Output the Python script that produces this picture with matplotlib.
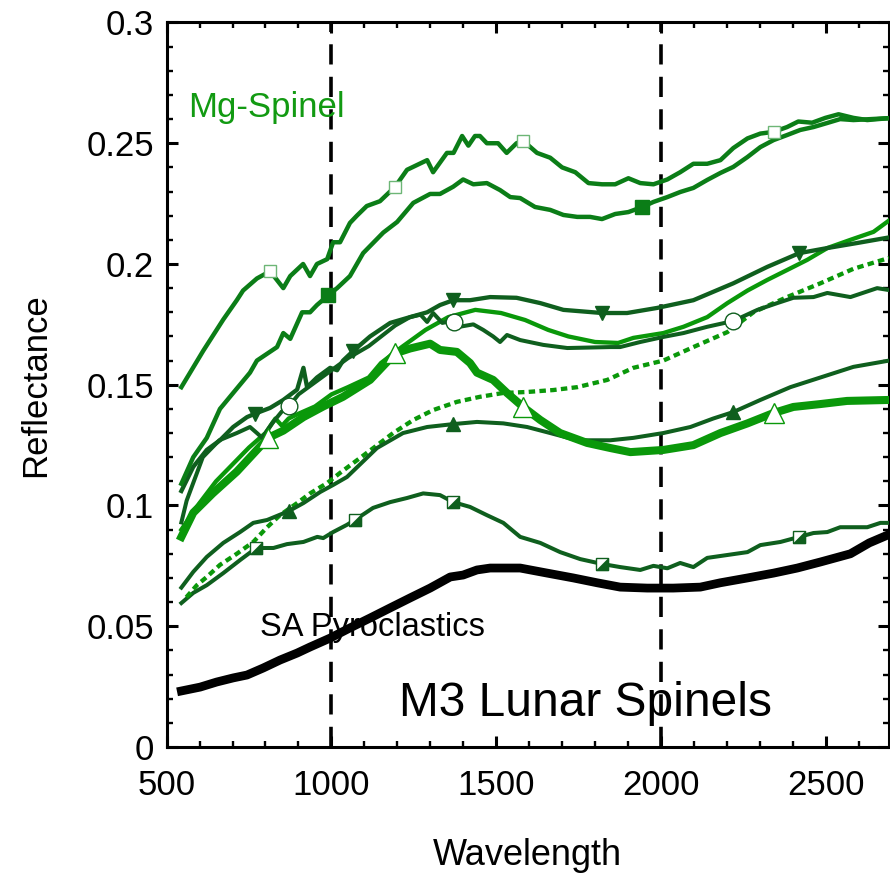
import numpy as np
import matplotlib
matplotlib.use('Agg')
import matplotlib.pyplot as plt
from matplotlib.ticker import MultipleLocator

plt.rcParams['font.family'] = ['Liberation Sans', 'DejaVu Sans']

# ---- data ----
# Mg-Spinel, open squares
wl_a = [545, 611, 672, 713, 732, 774, 814, 854, 875, 914, 935, 956, 987, 1005, 1026, 1056, 1077, 1107,
        1147, 1193, 1229, 1290, 1308, 1350, 1370, 1396, 1415, 1435, 1450, 1471, 1505, 1531, 1561, 1581,
        1623, 1663, 1699, 1739, 1779, 1820, 1860, 1900, 1936, 1976, 2018, 2057, 2097, 2139, 2179, 2218,
        2261, 2300, 2340, 2381, 2415, 2457, 2497, 2537, 2582, 2624, 2690]
refl_a = [0.149, 0.164, 0.177, 0.185, 0.189, 0.194, 0.197, 0.190, 0.195, 0.200, 0.195, 0.200, 0.202,
          0.209, 0.209, 0.217, 0.220, 0.224, 0.226, 0.232, 0.239, 0.243, 0.238, 0.246, 0.246, 0.253,
          0.249, 0.253, 0.253, 0.250, 0.250, 0.246, 0.250, 0.251, 0.246, 0.244, 0.240, 0.238, 0.2335,
          0.233, 0.233, 0.2355, 0.2335, 0.233, 0.235, 0.238, 0.2415, 0.2415, 0.243, 0.248, 0.252, 0.254,
          0.2547, 0.2567, 0.259, 0.2585, 0.2605, 0.262, 0.2605, 0.2596, 0.2604]
marks_a = [814, 1193, 1581, 2340]

# Mg-Spinel, filled squares
wl_b = [545, 581, 622, 662, 702, 753, 774, 835, 854, 875, 911, 935, 956, 990, 1017, 1056, 1096, 1157,
        1199, 1248, 1299, 1329, 1369, 1399, 1430, 1471, 1511, 1542, 1572, 1617, 1663, 1703, 1745, 1784,
        1820, 1860, 1900, 1942, 1976, 2018, 2057, 2097, 2139, 2179, 2218, 2261, 2300, 2340, 2381, 2421,
        2461, 2503, 2542, 2582, 2690]
refl_b = [0.109, 0.120, 0.128, 0.140, 0.1466, 0.155, 0.160, 0.1656, 0.1714, 0.169, 0.180, 0.180, 0.183,
          0.187, 0.190, 0.195, 0.2045, 0.213, 0.2174, 0.2253, 0.229, 0.229, 0.232, 0.235, 0.233, 0.2335,
          0.2306, 0.2277, 0.2273, 0.2236, 0.2224, 0.2203, 0.2195, 0.2195, 0.2186, 0.2207, 0.2215, 0.2236,
          0.2257, 0.2277, 0.2298, 0.2315, 0.2348, 0.2377, 0.2402, 0.2443, 0.2484, 0.2513, 0.2534, 0.2555,
          0.2567, 0.2584, 0.26, 0.2596, 0.2604]
marks_b = [990, 1942]

# dark green, down triangles
wl_c = [545, 581, 622, 662, 702, 744, 768, 814, 854, 896, 915, 926, 956, 996, 1017, 1035, 1066, 1117,
        1178, 1238, 1290, 1329, 1369, 1420, 1481, 1561, 1633, 1703, 1820, 1896, 1987, 2097, 2218, 2321,
        2418, 2503, 2594, 2690]
refl_c = [0.106, 0.116, 0.123, 0.127, 0.1325, 0.1366, 0.138, 0.1404, 0.1437, 0.148, 0.157, 0.149, 0.153,
          0.157, 0.156, 0.160, 0.164, 0.170, 0.1756, 0.178, 0.180, 0.183, 0.185, 0.185, 0.1863, 0.186,
          0.1838, 0.181, 0.1797, 0.1797, 0.1818, 0.185, 0.192, 0.1988, 0.2045, 0.2066, 0.2087, 0.211]
marks_c = [768, 1066, 1369, 1820, 2418]

# bright green, thin
wl_d = [545, 600, 650, 700, 750, 800, 830, 850, 870, 900, 950, 1000, 1050, 1113, 1150, 1213, 1285, 1354,
        1436, 1514, 1587, 1657, 1718, 1799, 1869, 1915, 2006, 2067, 2139, 2200, 2261, 2321, 2381, 2442,
        2503, 2573, 2643, 2690]
refl_d = [0.090, 0.101, 0.110, 0.117, 0.124, 0.130, 0.136, 0.133, 0.136, 0.138, 0.141, 0.146, 0.149,
          0.153, 0.159, 0.1656, 0.1727, 0.178, 0.181, 0.1797, 0.1768, 0.1727, 0.170, 0.1677, 0.1673,
          0.1694, 0.1714, 0.174, 0.178, 0.1838, 0.189, 0.1934, 0.1975, 0.2017, 0.2066, 0.210, 0.2133, 0.218]

# dark green, open circles
wl_e = [545, 561, 610, 660, 713, 753, 774, 790, 820, 850, 871, 900, 950, 1000, 1050, 1113, 1193, 1238,
        1270, 1290, 1308, 1336, 1350, 1372, 1388, 1430, 1460, 1490, 1511, 1532, 1572, 1642, 1715, 1845,
        1875, 1936, 2006, 2067, 2139, 2218, 2291, 2351, 2400, 2461, 2503, 2573, 2654, 2690]
refl_e = [0.093, 0.102, 0.120, 0.127, 0.130, 0.1325, 0.130, 0.128, 0.134, 0.139, 0.141, 0.146, 0.151,
          0.156, 0.161, 0.166, 0.1745, 0.178, 0.179, 0.176, 0.1797, 0.1756, 0.176, 0.176, 0.174, 0.175,
          0.1727, 0.170, 0.1677, 0.1706, 0.1685, 0.1665, 0.1652, 0.1656, 0.1656, 0.1677, 0.1698, 0.1714,
          0.174, 0.1764, 0.181, 0.1838, 0.186, 0.1863, 0.188, 0.1863, 0.190, 0.1892]
marks_e = [871, 1372, 2218]

# bright green, thick, open triangles
wl_f = [545, 581, 640, 713, 774, 808, 854, 915, 975, 1035, 1117, 1193, 1238, 1299, 1329, 1380, 1420,
        1441, 1490, 1532, 1581, 1633, 1693, 1775, 1845, 1906, 2006, 2097, 2179, 2261, 2340, 2400, 2482,
        2563, 2690]
refl_f = [0.087, 0.097, 0.105, 0.114, 0.123, 0.128, 0.131, 0.1366, 0.141, 0.145, 0.152, 0.163, 0.165,
          0.167, 0.1644, 0.1636, 0.159, 0.155, 0.152, 0.1466, 0.1408, 0.1354, 0.130, 0.1259, 0.1238,
          0.1221, 0.123, 0.125, 0.130, 0.134, 0.1383, 0.1408, 0.142, 0.1433, 0.1437]
marks_f = [808, 1193, 1581, 2340]

# bright green, dotted
wl_g = [560, 592, 622, 662, 713, 763, 805, 844, 896, 935, 987, 1026, 1127, 1187, 1248, 1308, 1380, 1450,
        1521, 1593, 1672, 1745, 1836, 1915, 2006, 2097, 2200, 2279, 2381, 2482, 2582, 2690]
refl_g = [0.062, 0.067, 0.0704, 0.0754, 0.080, 0.0849, 0.091, 0.096, 0.101, 0.105, 0.1093, 0.1135,
          0.1238, 0.130, 0.1354, 0.1395, 0.1429, 0.145, 0.1466, 0.147, 0.1478, 0.149, 0.152, 0.157,
          0.160, 0.1656, 0.1718, 0.180, 0.1863, 0.192, 0.198, 0.2025]

# dark green, up triangles
wl_h = [545, 581, 622, 672, 723, 763, 805, 871, 915, 966, 1005, 1047, 1138, 1217, 1290, 1369, 1441, 1521,
        1593, 1663, 1745, 1845, 1915, 2006, 2088, 2157, 2218, 2300, 2391, 2482, 2582, 2690]
refl_h = [0.066, 0.0725, 0.0787, 0.0845, 0.089, 0.0928, 0.094, 0.0977, 0.101, 0.1056, 0.1085, 0.1118,
          0.1238, 0.130, 0.1325, 0.1337, 0.1346, 0.134, 0.1325, 0.130, 0.127, 0.127, 0.128, 0.130,
          0.1325, 0.136, 0.1387, 0.1437, 0.149, 0.153, 0.1574, 0.160]
marks_h = [871, 1369, 2218]

# dark green, half-filled squares
wl_i = [545, 581, 622, 672, 723, 772, 824, 865, 915, 957, 975, 1005, 1047, 1071, 1126, 1178, 1229, 1278,
        1329, 1369, 1420, 1471, 1521, 1572, 1633, 1693, 1754, 1820, 1875, 1936, 1976, 2018, 2057, 2097,
        2139, 2200, 2261, 2300, 2361, 2418, 2461, 2503, 2542, 2624, 2664, 2690]
refl_i = [0.0596, 0.0638, 0.067, 0.072, 0.0774, 0.0824, 0.0824, 0.084, 0.0849, 0.087, 0.0865, 0.089,
          0.092, 0.094, 0.099, 0.1014, 0.1031, 0.105, 0.1043, 0.1014, 0.0994, 0.096, 0.0928, 0.087,
          0.0845, 0.0807, 0.0778, 0.0758, 0.0745, 0.0733, 0.075, 0.074, 0.0762, 0.0745, 0.0783, 0.0795,
          0.0807, 0.0836, 0.0849, 0.087, 0.0886, 0.089, 0.091, 0.091, 0.0928, 0.0928]
marks_i = [772, 1071, 1369, 1820, 2418]

# SA Pyroclastics
wl_sa = [545, 602, 652, 702, 744, 793, 844, 896, 935, 996, 1056, 1117, 1178, 1238, 1299, 1360, 1399,
         1441, 1481, 1572, 1654, 1733, 1805, 1875, 1957, 2036, 2118, 2179, 2261, 2340, 2412, 2482, 2573,
         2630, 2690]
refl_sa = [0.0232, 0.0248, 0.0269, 0.0286, 0.0298, 0.0327, 0.036, 0.0389, 0.0414, 0.0451, 0.0493,
           0.0534, 0.0576, 0.0617, 0.0658, 0.0704, 0.0712, 0.0733, 0.0741, 0.0741, 0.072, 0.070, 0.068,
           0.0662, 0.0658, 0.0658, 0.0662, 0.068, 0.070, 0.072, 0.0741, 0.0766, 0.080, 0.0845, 0.088]

band_centers = [1000, 2000]
x_ticks = [500, 1000, 1500, 2000, 2500]
y_ticks = [0, 0.05, 0.1, 0.15, 0.2, 0.25, 0.3]
y_labels = ['0', '0.05', '0.1', '0.15', '0.2', '0.25', '0.3']

mg_green = '#0b7d17'
dark_green = '#0f5f1e'
bright_green = '#0a980a'


def idx(wl, marks):
    wl = np.array(wl)
    return [int(np.argmin(np.abs(wl - m))) for m in marks]


fig = plt.figure(figsize=(8.9, 8.75), dpi=100)
ax = fig.add_axes([0.1871, 0.1463, 0.8118, 0.828])

for xv in band_centers:
    ax.axvline(xv, color='black', lw=2.6, dashes=(5.6, 3.4), zorder=1)

ax.plot(wl_sa, refl_sa, color='black', lw=6.3, solid_joinstyle='round', zorder=2)

ax.plot(wl_i, refl_i, color=dark_green, lw=2.9, zorder=3)
ax.plot(wl_i, refl_i, ls='none', marker='s', ms=9, mfc='white', mec=dark_green, mew=1,
        markevery=idx(wl_i, marks_i), zorder=4)
ax.plot(wl_i, refl_i, ls='none', marker=[(-1, -1), (1, -1), (1, 1), (-1, -1)], ms=9,
        mfc=dark_green, mec=dark_green, mew=0.5, markevery=idx(wl_i, marks_i), zorder=4)

ax.plot(wl_g, refl_g, color=bright_green, lw=3.1, ls=(0, (1.5, 1.0)), dash_capstyle='butt', zorder=3)

ax.plot(wl_h, refl_h, color=dark_green, lw=2.9, marker='^', ms=10, mfc=dark_green, mec=dark_green,
        markevery=idx(wl_h, marks_h), zorder=3)

ax.plot(wl_f, refl_f, color=bright_green, lw=5.8, zorder=3)
ax.plot(wl_f, refl_f, ls='none', marker='^', ms=15, mfc='white', mec=bright_green, mew=1,
        markevery=idx(wl_f, marks_f), zorder=5)

ax.plot(wl_d, refl_d, color=bright_green, lw=3.1, zorder=3)

ax.plot(wl_e, refl_e, color=dark_green, lw=2.9, zorder=3)
ax.plot(wl_e, refl_e, ls='none', marker='o', ms=12, mfc='white', mec=dark_green, mew=1,
        markevery=idx(wl_e, marks_e), zorder=5)

ax.plot(wl_c, refl_c, color=dark_green, lw=3.1, marker='v', ms=10, mfc=dark_green, mec=dark_green,
        markevery=idx(wl_c, marks_c), zorder=3)

ax.plot(wl_b, refl_b, color=mg_green, lw=3.2, marker='s', ms=10, mfc=mg_green, mec=mg_green,
        markevery=idx(wl_b, marks_b), zorder=3)

ax.plot(wl_a, refl_a, color=mg_green, lw=3.2, zorder=3)
ax.plot(wl_a, refl_a, ls='none', marker='s', ms=9, mfc='white', mec='#6db676', mew=1,
        markevery=idx(wl_a, marks_a), zorder=5)

ax.text(565, 0.265, 'Mg-Spinel', color='#129a12', fontsize=25, va='center', ha='left')
ax.text(783, 0.0493, 'SA Pyroclastics', color='black', fontsize=23.5, va='center', ha='left', zorder=6)
ax.text(1769, 0.018, 'M3 Lunar Spinels', color='black', fontsize=34.5, va='center', ha='center')

ax.set_xlim(500, 2690)
ax.set_ylim(0, 0.3)
ax.set_xticks(x_ticks)
ax.set_xticklabels([str(t) for t in x_ticks])
ax.set_yticks(y_ticks)
ax.set_yticklabels(y_labels)
ax.xaxis.set_minor_locator(MultipleLocator(100))
ax.yaxis.set_minor_locator(MultipleLocator(0.01))
ax.tick_params(which='both', direction='in', top=True, right=True, labelsize=25)
ax.tick_params(which='major', length=8, width=2.2)
ax.tick_params(axis='x', which='major', pad=16)
ax.tick_params(axis='y', which='major', pad=9)
ax.tick_params(which='minor', length=4.5, width=1.7)
for sp in ax.spines.values():
    sp.set_linewidth(2.2)

ax.set_xlabel('Wavelength', fontsize=26, labelpad=26)
ax.set_ylabel('Reflectance', fontsize=25, labelpad=25)

fig.savefig('out.png', dpi=100)
